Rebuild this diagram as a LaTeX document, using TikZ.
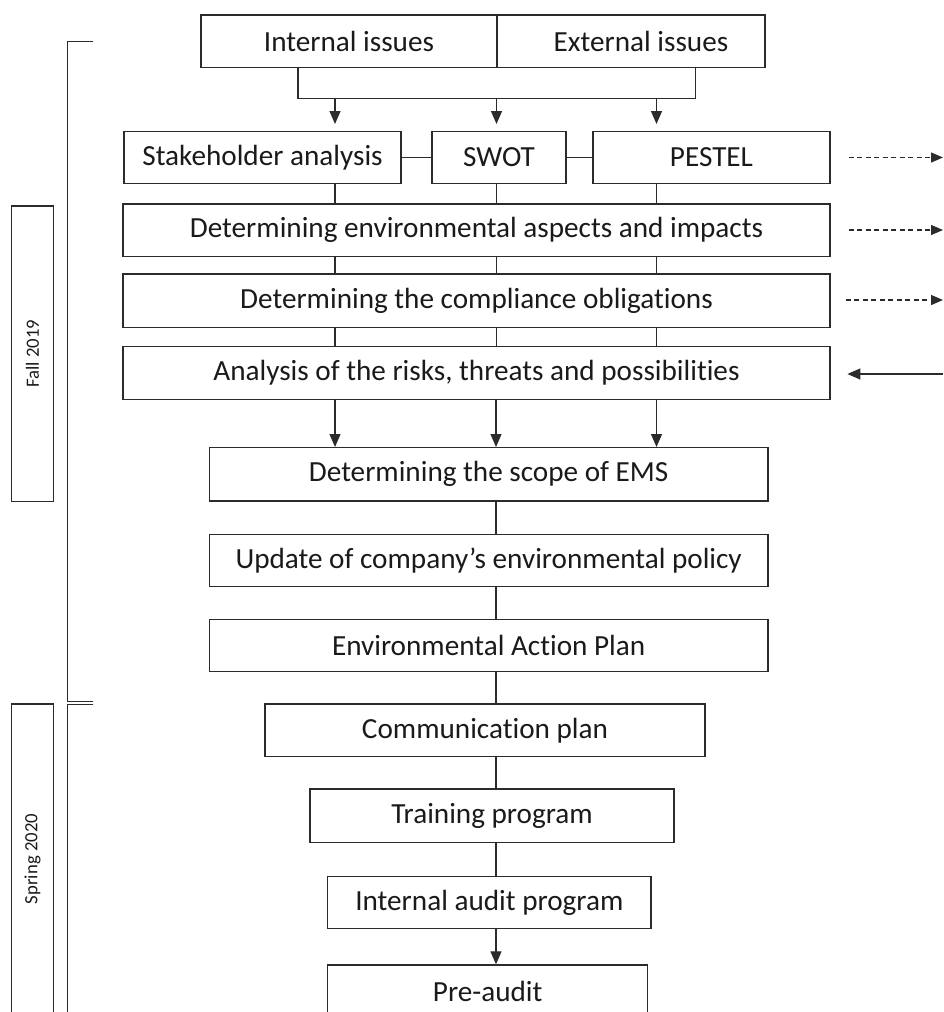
\documentclass[tikz,border=0pt]{standalone}
\usepackage{fontspec}
\setmainfont{Carlito}[Ligatures={NoCommon}]
\usetikzlibrary{arrows.meta}
\definecolor{linec}{HTML}{2B2B2B}
\definecolor{textc}{HTML}{1A1A1A}
\tikzset{
  box/.style={draw=linec, line width=1.4pt, inner sep=0pt, text=textc,
    font=\fontsize{29.2}{34}\selectfont},
  sidebox/.style={draw=linec, line width=1.3pt, inner sep=0pt, text=textc, rotate=90,
    font=\fontsize{18.7}{22}\selectfont},
  conn/.style={draw=linec, line width=1.3pt},
  arr/.style={conn, -{Triangle[length=13pt,width=11pt]}},
  dasharr/.style={conn, dash pattern=on 5pt off 3.5pt, -{Triangle[length=12pt,width=10pt]}},
}
\begin{document}
\begin{tikzpicture}[x=1pt,y=-1pt]
\useasboundingbox (0,0) rectangle (943,1012);
% column guides
\coordinate (a1) at (335,0);
\coordinate (a2) at (496.5,0);
\coordinate (a3) at (656.5,0);
\coordinate (sp) at (496,0);
\coordinate (jl) at (298,98.7);
\coordinate (jr) at (695.7,98.7);
% top row
\node[box, minimum width=296, minimum height=52.7] (internal) at (349,41.35) {Internal issues};
\node[box, minimum width=268, minimum height=52.7] (external) at (631,41.35) {\hspace*{20pt}External issues};
% second row
\node[box, minimum width=277, minimum height=51.6] (stake) at (262.5,157.5) {Stakeholder analysis};
\node[box, minimum width=134, minimum height=51.6] (swot) at (499,157.5) {SWOT};
\node[box, minimum width=237, minimum height=51.6] (pestel) at (711.5,157.5) {PESTEL};
% wide rows
\node[box, minimum width=707, minimum height=52.7] (aspects) at (476.5,230.35) {Determining environmental aspects and impacts};
\node[box, minimum width=707, minimum height=53.5] (compliance) at (476.5,300.75) {Determining the compliance obligations};
\node[box, minimum width=707, minimum height=52.6] (risks) at (476.5,373) {Analysis of the risks, threats and possibilities};
% middle column
\node[box, minimum width=558.7, minimum height=53.3] (scope) at (488.65,474.35) {Determining the scope of EMS};
\node[box, minimum width=558.7, minimum height=52.4] (update) at (488.65,560.5) {Update of company’s environmental policy};
\node[box, minimum width=558.7, minimum height=52.4] (env) at (488.65,645.5) {Environmental Action Plan};
\node[box, minimum width=440, minimum height=52.7] (comm) at (485,730.35) {Communication plan};
\node[box, minimum width=364, minimum height=53.3] (training) at (492,815.65) {Training program};
\node[box, minimum width=323.3, minimum height=51.6] (audit) at (489.35,902.5) {Internal audit program};
\node[box, minimum width=320, minimum height=52] (preaudit) at (487.7,991) {Pre-audit};
% side labels
\node[sidebox, minimum width=295.7, minimum height=41.6] (fall) at (32.5,353.85) {Fall 2019};
\node[sidebox, minimum width=310, minimum height=41.6] (spring) at (32.5,859) {Spring 2020};
% brackets
\coordinate (b1) at (92.5,41.7);
\coordinate (b2) at (67.7,41.7);
\coordinate (b3) at (67.7,701.5);
\coordinate (b4) at (93.3,701.5);
\coordinate (b5) at (93.3,704.5);
\coordinate (b6) at (67.7,704.5);
\coordinate (b7) at (67.7,1015);
\draw[conn] (b1) -- (b2) -- (b3) -- (b4);
\draw[conn] (b5) -- (b6) -- (b7);
% top connectors
\draw[conn] (internal.south -| jl) -- (jl) -- (jr) -- (external.south -| jr);
\draw[arr, shorten >=7pt] (jl -| a1) -- (stake.north -| a1);
\draw[arr, shorten >=7pt] (jl -| a2) -- (swot.north -| a2);
\draw[arr, shorten >=7pt] (jl -| a3) -- (pestel.north -| a3);
% horizontal links
\draw[conn] (stake.east) -- (swot.west);
\draw[conn] (swot.east) -- (pestel.west);
% vertical links between rows
\draw[conn] (stake.south -| a1) -- (aspects.north -| a1);
\draw[conn] (swot.south -| a2) -- (aspects.north -| a2);
\draw[conn] (pestel.south -| a3) -- (aspects.north -| a3);
\draw[conn] (aspects.south -| a1) -- (compliance.north -| a1);
\draw[conn] (aspects.south -| a2) -- (compliance.north -| a2);
\draw[conn] (aspects.south -| a3) -- (compliance.north -| a3);
\draw[conn] (compliance.south -| a1) -- (risks.north -| a1);
\draw[conn] (compliance.south -| a2) -- (risks.north -| a2);
\draw[conn] (compliance.south -| a3) -- (risks.north -| a3);
\draw[arr] (risks.south -| a1) -- (scope.north -| a1);
\draw[arr] (risks.south -| sp) -- (scope.north -| sp);
\draw[arr] (risks.south -| a3) -- (scope.north -| a3);
% spine
\draw[conn] (scope.south -| sp) -- (update.north -| sp);
\draw[conn] (update.south -| sp) -- (env.north -| sp);
\draw[conn] (env.south -| sp) -- (comm.north -| sp);
\draw[conn] (comm.south -| sp) -- (training.north -| sp);
\draw[conn] (training.south -| sp) -- (audit.north -| sp);
\draw[arr] (audit.south -| sp) -- (preaudit.north -| sp);
% right side arrows
\coordinate (e1) at (943,157.5);
\coordinate (e2) at (943,230);
\coordinate (e3) at (943,300);
\coordinate (e4) at (943,374);
\draw[dasharr, shorten <=18pt] (pestel.east) -- (e1);
\draw[dasharr, shorten <=18pt] (aspects.east |- e2) -- (e2);
\draw[dasharr, shorten <=15pt] (compliance.east |- e3) -- (e3);
\draw[arr, shorten >=16.7pt] (e4) -- (risks.east |- e4);
\end{tikzpicture}
\end{document}
